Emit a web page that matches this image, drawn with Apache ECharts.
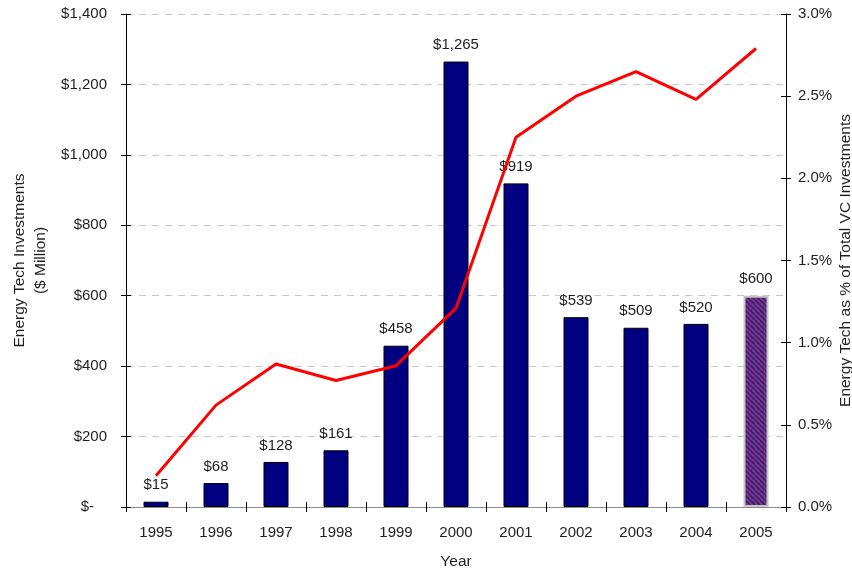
<!DOCTYPE html>
<html>
<head>
<meta charset="utf-8">
<script src="https://cdn.jsdelivr.net/npm/echarts@6/dist/echarts.min.js"></script>
<style>
  html, body { margin: 0; padding: 0; background: #fff; }
  #chart { width: 852px; height: 571px; }
</style>
</head>
<body>
<div id="chart"></div>
<script>
// Energy technology venture capital, 1995-2005
const years = ['1995', '1996', '1997', '1998', '1999', '2000', '2001', '2002', '2003', '2004', '2005'];
const investments = [15, 68, 128, 161, 458, 1265, 919, 539, 509, 520, 600];      // $ million
const shareOfVC = [0.19, 0.62, 0.87, 0.77, 0.86, 1.21, 2.25, 2.50, 2.65, 2.48, 2.79]; // % of total VC
const moneyTicks = { min: 0, max: 1400, interval: 200 };
const pctTicks = { min: 0, max: 3.0, interval: 0.5 };

const FONT = 'Liberation Sans';
const TEXT = '#1e1e1e';
const TICK_SIZE = 15;
const NAME_SIZE = 15.5;

// hatch fill for the last (estimated) year
function hatchPattern() {
  const s = 5;
  const c = document.createElement('canvas');
  c.width = s; c.height = s;
  const g = c.getContext('2d');
  g.fillStyle = '#8e3372';
  g.fillRect(0, 0, s, s);
  g.strokeStyle = '#23238f';
  g.lineWidth = 1.6;
  g.beginPath();
  for (let o = -s; o <= s; o += s) {
    g.moveTo(o, 0);
    g.lineTo(o + s, s);
  }
  g.stroke();
  return c;
}

const lastIdx = years.length - 1;
const barData = investments.map((v, i) => i === lastIdx
  ? { value: v, itemStyle: { color: { image: hatchPattern(), repeat: 'repeat' }, borderColor: '#c4c4c4', borderWidth: 2 } }
  : v);

const money = v => '$' + v.toLocaleString('en-US');

const chart = echarts.init(document.getElementById('chart'), null, { renderer: 'canvas' });

const hiddenLabels = { show: false };

chart.setOption({
  animation: false,
  backgroundColor: '#fff',
  textStyle: { fontFamily: FONT, color: TEXT },
  grid: { left: 126, right: 66, top: 14, bottom: 64, containLabel: false, outerBoundsMode: 'none' },
  xAxis: [
    {
      type: 'category',
      data: years,
      position: 'bottom',
      name: 'Year',
      nameLocation: 'middle',
      nameGap: 47,
      nameMoveOverlap: false,
      nameTextStyle: { fontFamily: FONT, fontSize: NAME_SIZE, color: TEXT },
      axisLine: { show: true, lineStyle: { color: '#000', width: 1 } },
      axisTick: { show: true, length: 5, lineStyle: { color: '#000' } },
      axisLabel: { fontFamily: FONT, fontSize: TICK_SIZE, color: TEXT, margin: 18 },
      splitLine: { show: false }
    },
    {
      // inward half of the category ticks
      type: 'category',
      data: years,
      position: 'bottom',
      axisLine: { show: false },
      axisTick: { show: true, inside: true, length: 5, lineStyle: { color: '#000' } },
      axisLabel: hiddenLabels,
      splitLine: { show: false }
    },
    {
      // top frame line
      type: 'category',
      data: years,
      position: 'top',
      axisLine: { show: true, lineStyle: { color: '#8a8a8a', width: 1 } },
      axisTick: { show: false },
      axisLabel: hiddenLabels,
      splitLine: { show: false }
    }
  ],
  yAxis: [
    {
      type: 'value',
      position: 'left',
      ...moneyTicks,
      name: 'Energy Tech Investments\n($ Million)',
      nameLocation: 'middle',
      nameRotate: 90,
      nameGap: 75,
      nameMoveOverlap: false,
      nameTextStyle: { fontFamily: FONT, fontSize: NAME_SIZE, color: TEXT, lineHeight: 21 },
      axisLine: { show: true, lineStyle: { color: '#000', width: 1 } },
      axisTick: { show: true, length: 5, lineStyle: { color: '#000' } },
      axisLabel: {
        fontFamily: FONT, fontSize: TICK_SIZE, color: TEXT, margin: 19,
        formatter: v => v === 0 ? '{z|$-}' : money(v),
        rich: { z: { fontFamily: FONT, fontSize: TICK_SIZE, color: TEXT, padding: [0, 13, 0, 0] } }
      },
      splitLine: { show: true, lineStyle: { color: '#c8c8c8', type: [7, 6], width: 1 } }
    },
    {
      type: 'value',
      position: 'right',
      ...pctTicks,
      name: 'Energy Tech as % of Total VC Investments',
      nameLocation: 'middle',
      nameRotate: 90,
      nameGap: 52,
      nameMoveOverlap: false,
      nameTextStyle: { fontFamily: FONT, fontSize: NAME_SIZE, color: TEXT },
      axisLine: { show: true, lineStyle: { color: '#000', width: 1 } },
      axisTick: { show: true, length: 5, lineStyle: { color: '#000' } },
      axisLabel: { fontFamily: FONT, fontSize: TICK_SIZE, color: TEXT, margin: 12, formatter: v => v.toFixed(1) + '%' },
      splitLine: { show: false }
    },
    {
      // inward half of the left ticks
      type: 'value', position: 'left', ...moneyTicks,
      axisLine: { show: false },
      axisTick: { show: true, inside: true, length: 5, lineStyle: { color: '#000' } },
      axisLabel: hiddenLabels, splitLine: { show: false }
    },
    {
      // inward half of the right ticks
      type: 'value', position: 'right', ...pctTicks,
      axisLine: { show: false },
      axisTick: { show: true, inside: true, length: 5, lineStyle: { color: '#000' } },
      axisLabel: hiddenLabels, splitLine: { show: false }
    }
  ],
  series: [
    {
      name: 'Energy Tech Investments',
      type: 'bar',
      xAxisIndex: 0,
      yAxisIndex: 0,
      data: barData,
      barWidth: 25,
      itemStyle: { color: '#000080', borderColor: '#000', borderWidth: 1 },
      label: {
        show: true,
        position: 'top',
        distance: 9,
        fontFamily: FONT,
        fontSize: TICK_SIZE,
        color: TEXT,
        formatter: p => money(p.value)
      },
      z: 2
    },
    {
      name: 'Share of Total VC',
      type: 'line',
      xAxisIndex: 0,
      yAxisIndex: 1,
      data: shareOfVC,
      showSymbol: false,
      symbol: 'none',
      lineStyle: { color: '#ff0000', width: 3 },
      z: 3
    }
  ]
});
</script>
</body>
</html>
